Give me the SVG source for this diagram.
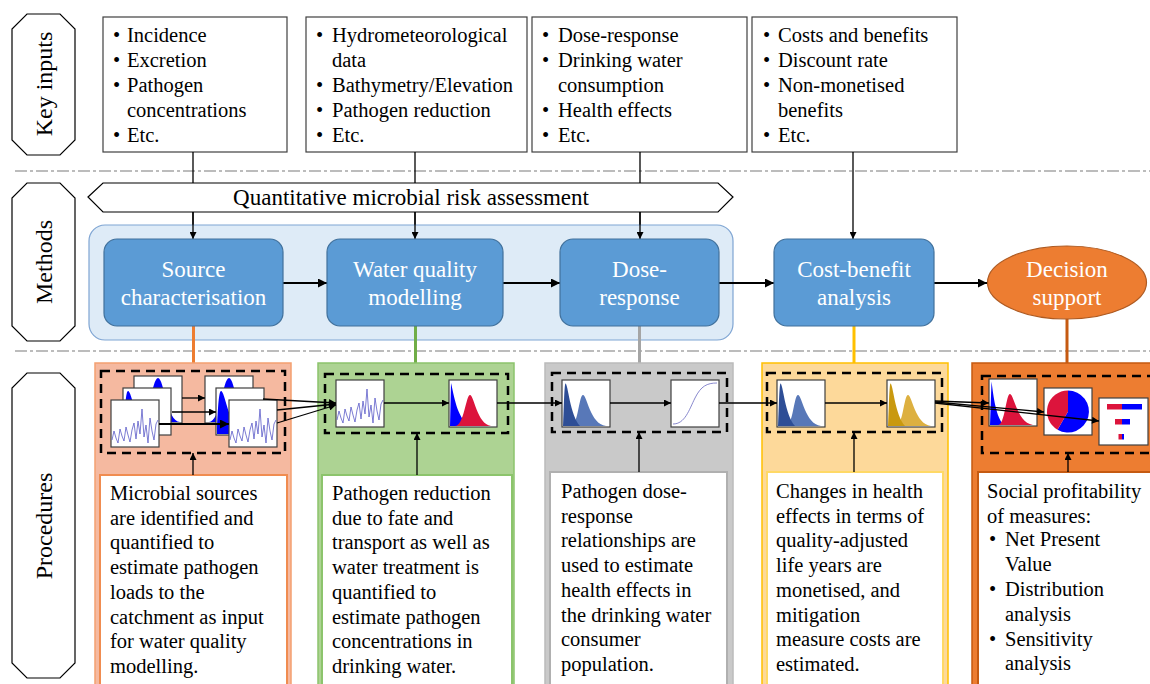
<svg xmlns="http://www.w3.org/2000/svg" xmlns:xlink="http://www.w3.org/1999/xlink" width="1150" height="684" viewBox="0 0 1150 684">
<style>
.t{font-family:"Liberation Serif","Times New Roman",serif;font-size:20.5px;fill:#000}
.lbl{font-family:"Liberation Serif","Times New Roman",serif;font-size:24px;fill:#000;text-anchor:middle}
.m{font-family:"Liberation Serif","Times New Roman",serif;font-size:23px;fill:#fff;text-anchor:middle}
.q{font-family:"Liberation Serif","Times New Roman",serif;font-size:23px;fill:#000;text-anchor:middle}
.ibox{fill:#fff;stroke:#404040;stroke-width:1.2}
.side{fill:#fff;stroke:#000;stroke-width:1.2}
.sep{stroke:#A6A6A6;stroke-width:1.5;stroke-dasharray:12 3 3 3;fill:none}
.ln{stroke:#000;stroke-width:1.3;fill:none}
.ln2{stroke:#000;stroke-width:2;fill:none}
.arr{marker-end:url(#ah)}
.arr2{marker-end:url(#ah2)}
.dash{fill:none;stroke:#000;stroke-width:2.5;stroke-dasharray:9 6}
.ch{fill:#fff;stroke:#404040;stroke-width:1.2}
.mb{fill:#5B9BD5;stroke:#41719C;stroke-width:1.2}
</style>
<defs>
<marker id="ah" viewBox="0 0 10 10" refX="10" refY="5" markerWidth="8" markerHeight="7" markerUnits="userSpaceOnUse" orient="auto"><path d="M0,0 L10,5 L0,10 z" fill="#000"/></marker>
<marker id="ah2" viewBox="0 0 10 10" refX="10" refY="5" markerWidth="11" markerHeight="9" markerUnits="userSpaceOnUse" orient="auto"><path d="M0,0 L10,5 L0,10 z" fill="#000"/></marker>
<symbol id="ts" viewBox="0 0 48 47" overflow="visible">
<rect class="ch" x="0" y="0" width="48" height="47"/>
<polyline fill="none" stroke="#5A5AC8" stroke-width="0.8" points="1,40 3,31 5,38 7,43 9,29 11,36 13,41 15,27 17,35 19,42 21,30 23,23 25,39 27,21 29,34 31,9 33,37 35,25 37,43 39,18 41,31 43,40 45,24 47,20"/>
</symbol>
<symbol id="hb" viewBox="0 0 48 47" overflow="visible">
<rect class="ch" x="0" y="0" width="48" height="47"/>
<path d="M4,46 C15,46 18,2 24,2 C30,2 33,46 46,46 Z" fill="#0000FF"/>
</symbol>
<symbol id="hs" viewBox="0 0 48 47" overflow="visible">
<rect class="ch" x="0" y="0" width="48" height="47"/>
<path d="M1,46 L1,40 C2,18 3,3 5,3 C9,3 12,35 26,46 Z" fill="#0000FF"/>
</symbol>
<symbol id="hbr" viewBox="0 0 48 47" overflow="visible">
<rect class="ch" x="0" y="0" width="48" height="47"/>
<path d="M1,46 L2,3 C5,15 8,38 20,45 L20,46 Z" fill="#0000FF"/>
<path d="M6,46 C15,46 17,15 21,15 C25,15 28,44 42,46 Z" fill="#DC143C"/>
</symbol>
<symbol id="hbr2" viewBox="0 0 48 47" overflow="visible">
<rect class="ch" x="0" y="0" width="48" height="47"/>
<path d="M1,46 L2.5,2.5 C4,12 6,36 14,45 L14,46 Z" fill="#0000FF"/>
<path d="M9,46 C16,46 17,15 21,15 C25,15 28,44 44,46 Z" fill="#DC143C"/>
</symbol>
<symbol id="hd" viewBox="0 0 48 47" overflow="visible">
<rect class="ch" x="0" y="0" width="48" height="47"/>
<path d="M9,46 C16,46 17,15 21,15 C25,15 28,44 44,46 Z" fill="#5878B8"/>
<path d="M1,46 L2,20 C2.5,8 3,3.5 3.5,3.5 C6,3.5 8,35 18,46 Z" fill="#2E4E96"/>
</symbol>
<symbol id="hy" viewBox="0 0 48 47" overflow="visible">
<rect class="ch" x="0" y="0" width="48" height="47"/>
<path d="M9,46 C16,46 17,15 21,15 C25,15 28,44 44,46 Z" fill="#DDB040"/>
<path d="M1,46 L2,20 C2.5,8 3,3.5 3.5,3.5 C6,3.5 8,35 18,46 Z" fill="#C9990F"/>
</symbol>
<symbol id="sig" viewBox="0 0 48 47" overflow="visible">
<rect class="ch" x="0" y="0" width="48" height="47"/>
<path d="M2,44 C14,44 18,30 24,18 C30,6 36,3 46,3" fill="none" stroke="#6A6AC0" stroke-width="0.8"/>
</symbol>
<symbol id="pie" viewBox="0 0 48 47" overflow="visible">
<rect class="ch" x="0" y="0" width="48" height="47"/>
<path d="M24,23.5 L24,2.5 A21,21 0 1 1 13.5,41.7 Z" fill="#0000FF"/>
<path d="M24,23.5 L13.5,41.7 A21,21 0 0 1 24,2.5 Z" fill="#DC143C"/>
</symbol>
<symbol id="bar" viewBox="0 0 49 47" overflow="visible">
<rect class="ch" x="0" y="0" width="49" height="47"/>
<rect x="8" y="6" width="15" height="5.5" fill="#DC143C"/>
<rect x="23" y="6" width="20" height="5.5" fill="#0000FF"/>
<rect x="16" y="21" width="7" height="5.5" fill="#DC143C"/>
<rect x="23" y="21" width="8" height="5.5" fill="#0000FF"/>
<rect x="19.5" y="36" width="3.5" height="5.5" fill="#DC143C"/>
<rect x="23" y="36" width="2" height="5.5" fill="#0000FF"/>
</symbol>
</defs>

<rect width="1150" height="684" fill="#fff"/>

<!-- separators -->
<g id="separators">
<line class="sep" x1="15" y1="171" x2="1150" y2="171"/>
<line class="sep" x1="15" y1="351" x2="1150" y2="351"/>
</g>

<!-- row labels -->
<g id="label-key-inputs">
<polygon class="side" points="27,14 60,14 75,29 75,140 60,155 27,155 12,140 12,29"/>
<text class="lbl" transform="translate(52,84) rotate(-90)">Key inputs</text>
</g>
<g id="label-methods">
<polygon class="side" points="27,183 60,183 75,198 75,326 60,341 27,341 12,326 12,198"/>
<text class="lbl" transform="translate(52,262) rotate(-90)">Methods</text>
</g>
<g id="label-procedures">
<polygon class="side" points="27,373 60,373 75,388 75,663 60,678 27,678 12,663 12,388"/>
<text class="lbl" transform="translate(52,526) rotate(-90)">Procedures</text>
</g>

<!-- key input boxes -->
<g id="input-source">
<rect class="ibox" x="103" y="17" width="184" height="135"/>
<text class="t"><tspan x="113" y="42">•</tspan><tspan x="127" y="42">Incidence</tspan><tspan x="113" y="67">•</tspan><tspan x="127" y="67">Excretion</tspan><tspan x="113" y="92">•</tspan><tspan x="127" y="92">Pathogen</tspan><tspan x="127" y="117">concentrations</tspan><tspan x="113" y="142">•</tspan><tspan x="127" y="142">Etc.</tspan></text>
</g>
<g id="input-water">
<rect class="ibox" x="306" y="17" width="221" height="135"/>
<text class="t"><tspan x="316" y="42">•</tspan><tspan x="332" y="42">Hydrometeorological</tspan><tspan x="332" y="67">data</tspan><tspan x="316" y="92">•</tspan><tspan x="332" y="92">Bathymetry/Elevation</tspan><tspan x="316" y="117">•</tspan><tspan x="332" y="117">Pathogen reduction</tspan><tspan x="316" y="142">•</tspan><tspan x="332" y="142">Etc.</tspan></text>
</g>
<g id="input-dose">
<rect class="ibox" x="532" y="17" width="215" height="135"/>
<text class="t"><tspan x="542" y="42">•</tspan><tspan x="558" y="42">Dose-response</tspan><tspan x="542" y="67">•</tspan><tspan x="558" y="67">Drinking water</tspan><tspan x="558" y="92">consumption</tspan><tspan x="542" y="117">•</tspan><tspan x="558" y="117">Health effects</tspan><tspan x="542" y="142">•</tspan><tspan x="558" y="142">Etc.</tspan></text>
</g>
<g id="input-cost">
<rect class="ibox" x="752" y="17" width="205" height="135"/>
<text class="t"><tspan x="763" y="42">•</tspan><tspan x="778" y="42">Costs and benefits</tspan><tspan x="763" y="67">•</tspan><tspan x="778" y="67">Discount rate</tspan><tspan x="763" y="92">•</tspan><tspan x="778" y="92">Non-monetised</tspan><tspan x="778" y="117">benefits</tspan><tspan x="763" y="142">•</tspan><tspan x="778" y="142">Etc.</tspan></text>
</g>

<!-- input connectors (behind banner) -->
<g id="input-connectors">
<line class="ln arr" x1="193" y1="152" x2="193" y2="239"/>
<line class="ln arr" x1="415" y1="152" x2="415" y2="239"/>
<line class="ln arr" x1="640" y1="152" x2="640" y2="239"/>
<line class="ln arr" x1="853" y1="152" x2="853" y2="239"/>
</g>

<!-- methods container -->
<g id="methods-container">
<rect x="89" y="225" width="644" height="115" rx="16" fill="#DEEBF7" stroke="#7FA5D3" stroke-width="1.2"/>
</g>

<!-- redraw connector segments inside container -->
<g id="input-connectors-inner">
<line class="ln arr" x1="193" y1="212" x2="193" y2="239"/>
<line class="ln arr" x1="415" y1="212" x2="415" y2="239"/>
<line class="ln arr" x1="640" y1="212" x2="640" y2="239"/>
</g>

<g id="qmra-banner">
<polygon points="88,197 103,183 718,183 733,197 718,212 103,212" fill="#fff" stroke="#000" stroke-width="1.2"/>
<text class="q" x="411" y="205">Quantitative microbial risk assessment</text>
</g>

<!-- colored links to procedures -->
<g id="proc-links">
<line x1="193.5" y1="326" x2="193.5" y2="364" stroke="#ED7D31" stroke-width="3"/>
<line x1="415.5" y1="326" x2="415.5" y2="364" stroke="#70AD47" stroke-width="3"/>
<line x1="639.5" y1="326" x2="639.5" y2="364" stroke="#A5A5A5" stroke-width="3"/>
<line x1="854" y1="326" x2="854" y2="364" stroke="#FFC000" stroke-width="3"/>
<line x1="1067" y1="319" x2="1067" y2="364" stroke="#C55A11" stroke-width="3"/>
</g>

<!-- method flow connectors -->
<g id="method-connectors">
<line class="ln2 arr2" x1="283" y1="283" x2="327" y2="283"/>
<line class="ln2 arr2" x1="503" y1="283" x2="560" y2="283"/>
<line class="ln2 arr2" x1="719" y1="283" x2="774" y2="283"/>
<line class="ln2 arr2" x1="934" y1="283" x2="987" y2="283"/>
</g>

<g id="m-source">
<rect class="mb" x="104" y="239" width="179" height="87" rx="13"/>
<text class="m" x="193.5" y="277">Source</text>
<text class="m" x="193.5" y="305">characterisation</text>
</g>
<g id="m-water">
<rect class="mb" x="327" y="239" width="176" height="87" rx="13"/>
<text class="m" x="415" y="277">Water quality</text>
<text class="m" x="415" y="305">modelling</text>
</g>
<g id="m-dose">
<rect class="mb" x="560" y="239" width="159" height="87" rx="13"/>
<text class="m" x="639.5" y="277">Dose-</text>
<text class="m" x="639.5" y="305">response</text>
</g>
<g id="m-cost">
<rect class="mb" x="774" y="239" width="160" height="87" rx="13"/>
<text class="m" x="854" y="277">Cost-benefit</text>
<text class="m" x="854" y="305">analysis</text>
</g>
<g id="m-decision">
<ellipse cx="1067" cy="282.5" rx="79.5" ry="36.5" fill="#ED7D31" stroke="#AE5A21" stroke-width="1.2"/>
<text class="m" x="1067" y="277">Decision</text>
<text class="m" x="1067" y="305">support</text>
</g>

<!-- procedures panels -->
<g id="p-source">
<rect x="95" y="363" width="196" height="330" fill="#F5B9A0" stroke="#F4A070" stroke-width="1.5"/>
<rect class="dash" x="101" y="371" width="184" height="82"/>
<use xlink:href="#hb" x="134" y="376" width="48" height="47"/>
<use xlink:href="#hs" x="123" y="388" width="48" height="47"/>
<use xlink:href="#ts" x="111" y="400" width="48" height="47"/>
<use xlink:href="#hb" x="205" y="376" width="48" height="47"/>
<use xlink:href="#hs" x="216" y="388" width="48" height="47"/>
<use xlink:href="#ts" x="229" y="400" width="48" height="47"/>
<rect x="100" y="475" width="187" height="220" fill="#fff" stroke="#F08C50" stroke-width="2"/>
<text class="t"><tspan x="110" y="500">Microbial sources</tspan><tspan x="110" y="524.7">are identified and</tspan><tspan x="110" y="549.4">quantified to</tspan><tspan x="110" y="574.1">estimate pathogen</tspan><tspan x="110" y="598.8">loads to the</tspan><tspan x="110" y="623.5">catchment as input</tspan><tspan x="110" y="648.2">for water quality</tspan><tspan x="110" y="672.9">modelling.</tspan></text>
</g>
<g id="p-water">
<rect x="318" y="363" width="196" height="330" fill="#ADD393" stroke="#8CC46C" stroke-width="1.5"/>
<rect class="dash" x="325" y="374" width="183" height="59"/>
<use xlink:href="#ts" x="336" y="380" width="48" height="47"/>
<use xlink:href="#hbr" x="449" y="380" width="48" height="47"/>
<rect x="322" y="475" width="190" height="220" fill="#fff" stroke="#8CC46C" stroke-width="2"/>
<text class="t"><tspan x="332" y="500">Pathogen reduction</tspan><tspan x="332" y="524.7">due to fate and</tspan><tspan x="332" y="549.4">transport as well as</tspan><tspan x="332" y="574.1">water treatment is</tspan><tspan x="332" y="598.8">quantified to</tspan><tspan x="332" y="623.5">estimate pathogen</tspan><tspan x="332" y="648.2">concentrations in</tspan><tspan x="332" y="672.9">drinking water.</tspan></text>
</g>
<g id="p-dose">
<rect x="545" y="363" width="188" height="330" fill="#C9C9C9" stroke="#BBBBBB" stroke-width="1.5"/>
<rect class="dash" x="552" y="373" width="175" height="59"/>
<use xlink:href="#hd" x="562" y="380" width="48" height="47"/>
<use xlink:href="#sig" x="671" y="380" width="48" height="47"/>
<rect x="550" y="472" width="177" height="223" fill="#fff" stroke="#B0B0B0" stroke-width="2"/>
<text class="t"><tspan x="561" y="498">Pathogen dose-</tspan><tspan x="561" y="522.7">response</tspan><tspan x="561" y="547.4">relationships are</tspan><tspan x="561" y="572.1">used to estimate</tspan><tspan x="561" y="596.8">health effects in</tspan><tspan x="561" y="621.5">the drinking water</tspan><tspan x="561" y="646.2">consumer</tspan><tspan x="561" y="670.9">population.</tspan></text>
</g>
<g id="p-cost">
<rect x="762" y="363" width="186" height="330" fill="#FDD99A" stroke="#FFC000" stroke-width="1.5"/>
<rect class="dash" x="767" y="373" width="175" height="59"/>
<use xlink:href="#hd" x="777" y="380" width="48" height="47"/>
<use xlink:href="#hy" x="887" y="380" width="48" height="47"/>
<rect x="767" y="472" width="176" height="223" fill="#fff" stroke="#FFD966" stroke-width="2"/>
<text class="t"><tspan x="776" y="498">Changes in health</tspan><tspan x="776" y="522.7">effects in terms of</tspan><tspan x="776" y="547.4">quality-adjusted</tspan><tspan x="776" y="572.1">life years are</tspan><tspan x="776" y="596.8">monetised, and</tspan><tspan x="776" y="621.5">mitigation</tspan><tspan x="776" y="646.2">measure costs are</tspan><tspan x="776" y="670.9">estimated.</tspan></text>
</g>
<g id="p-decision">
<rect x="972" y="363" width="190" height="330" fill="#ED7D31" stroke="#C55A11" stroke-width="1.5"/>
<rect class="dash" x="982" y="376" width="180" height="77"/>
<use xlink:href="#hbr2" x="989" y="379" width="48" height="47"/>
<use xlink:href="#pie" x="1044" y="388" width="48" height="47"/>
<use xlink:href="#bar" x="1099" y="398" width="49" height="47"/>
<rect x="978" y="472" width="185" height="223" fill="#fff" stroke="#C55A11" stroke-width="2"/>
<text class="t"><tspan x="987" y="498">Social profitability</tspan><tspan x="987" y="523">of measures:</tspan><tspan x="989" y="546">•</tspan><tspan x="1005" y="546">Net Present</tspan><tspan x="1005" y="571">Value</tspan><tspan x="989" y="596">•</tspan><tspan x="1005" y="596">Distribution</tspan><tspan x="1005" y="621">analysis</tspan><tspan x="989" y="646">•</tspan><tspan x="1005" y="646">Sensitivity</tspan><tspan x="1005" y="670">analysis</tspan></text>
</g>

<!-- procedure connectors -->
<g id="proc-connectors">
<line class="ln arr" x1="182" y1="398" x2="205" y2="398"/>
<line class="ln arr" x1="172" y1="412" x2="216" y2="412"/>
<line class="ln2 arr2" x1="159" y1="424" x2="229" y2="424"/>
<line class="ln arr" x1="263" y1="399" x2="336" y2="403"/>
<line class="ln arr" x1="277" y1="410" x2="336" y2="404"/>
<line class="ln arr" x1="277" y1="423" x2="336" y2="405"/>
<line class="ln arr" x1="384" y1="403" x2="449" y2="403"/>
<line class="ln arr" x1="497" y1="403" x2="562" y2="403"/>
<line class="ln arr" x1="610" y1="403" x2="671" y2="403"/>
<line class="ln arr" x1="719" y1="403" x2="777" y2="403"/>
<line class="ln arr" x1="825" y1="403" x2="887" y2="403"/>
<line class="ln arr" x1="935" y1="401" x2="989" y2="403"/>
<line class="ln arr" x1="935" y1="402" x2="1044" y2="412"/>
<line class="ln arr" x1="935" y1="403" x2="1099" y2="421"/>
<line class="ln arr" x1="193" y1="475" x2="193" y2="453"/>
<line class="ln arr" x1="417" y1="475" x2="417" y2="433"/>
<line class="ln arr" x1="639" y1="472" x2="639" y2="432"/>
<line class="ln arr" x1="854" y1="472" x2="854" y2="432"/>
<line class="ln arr" x1="1068" y1="472" x2="1068" y2="453"/>
</g>
</svg>
